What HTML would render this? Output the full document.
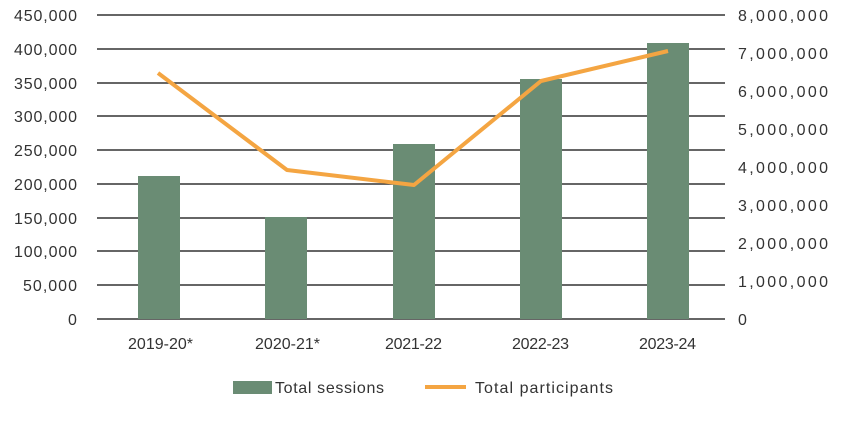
<!DOCTYPE html><html><head><style>body{margin:0;background:#fff}svg text{font-family:"Liberation Sans",sans-serif;font-size:16px;fill:#333}</style></head><body>
<svg width="868" height="426" xmlns="http://www.w3.org/2000/svg">
<g stroke="#333" stroke-width="1.5">
<line x1="97" x2="725" y1="15" y2="15"/><line x1="97" x2="725" y1="49" y2="49"/><line x1="97" x2="725" y1="83" y2="83"/><line x1="97" x2="725" y1="116" y2="116"/><line x1="97" x2="725" y1="150" y2="150"/><line x1="97" x2="725" y1="184" y2="184"/><line x1="97" x2="725" y1="218" y2="218"/><line x1="97" x2="725" y1="251" y2="251"/><line x1="97" x2="725" y1="285" y2="285"/><line x1="97" x2="725" y1="319" y2="319"/>
</g>
<g fill="#6a8c74">
<rect x="138" y="176" width="42" height="143"/><rect x="265" y="217" width="42" height="102"/><rect x="393" y="144" width="42" height="175"/><rect x="520" y="79" width="42" height="240"/><rect x="647" y="43" width="42" height="276"/>
</g>
<polyline points="158,73 287,170 414,185 541,81 668,51" fill="none" stroke="#f4a542" stroke-width="4" stroke-linejoin="round"/>
<g>
<text x="14" y="21" textLength="63">450,000</text><text x="14" y="55" textLength="63">400,000</text><text x="14" y="89" textLength="63">350,000</text><text x="14" y="122" textLength="63">300,000</text><text x="14" y="156" textLength="63">250,000</text><text x="14" y="190" textLength="63">200,000</text><text x="14" y="224" textLength="63">150,000</text><text x="14" y="257" textLength="63">100,000</text><text x="23" y="291" textLength="54">50,000</text><text x="68" y="325">0</text>
</g>
<g>
<text x="738" y="21" textLength="90">8,000,000</text><text x="738" y="59" textLength="90">7,000,000</text><text x="738" y="97" textLength="90">6,000,000</text><text x="738" y="135" textLength="90">5,000,000</text><text x="738" y="173" textLength="90">4,000,000</text><text x="738" y="211" textLength="90">3,000,000</text><text x="738" y="249" textLength="90">2,000,000</text><text x="738" y="287" textLength="90">1,000,000</text><text x="738" y="325">0</text>
</g>
<g style="font-size:15px">
<text x="128" y="349" textLength="65">2019-20*</text><text x="255" y="349" textLength="65">2020-21*</text><text x="385" y="349" textLength="57">2021-22</text><text x="512" y="349" textLength="57">2022-23</text><text x="639" y="349" textLength="57">2023-24</text>
</g>
<rect x="233" y="381" width="39" height="13" fill="#6a8c74"/>
<text x="275" y="393" style="font-size:16px" textLength="109">Total sessions</text>
<line x1="425" x2="466" y1="387" y2="387" stroke="#f4a542" stroke-width="4"/>
<text x="475" y="393" style="font-size:16px" textLength="138">Total participants</text>
</svg></body></html>
